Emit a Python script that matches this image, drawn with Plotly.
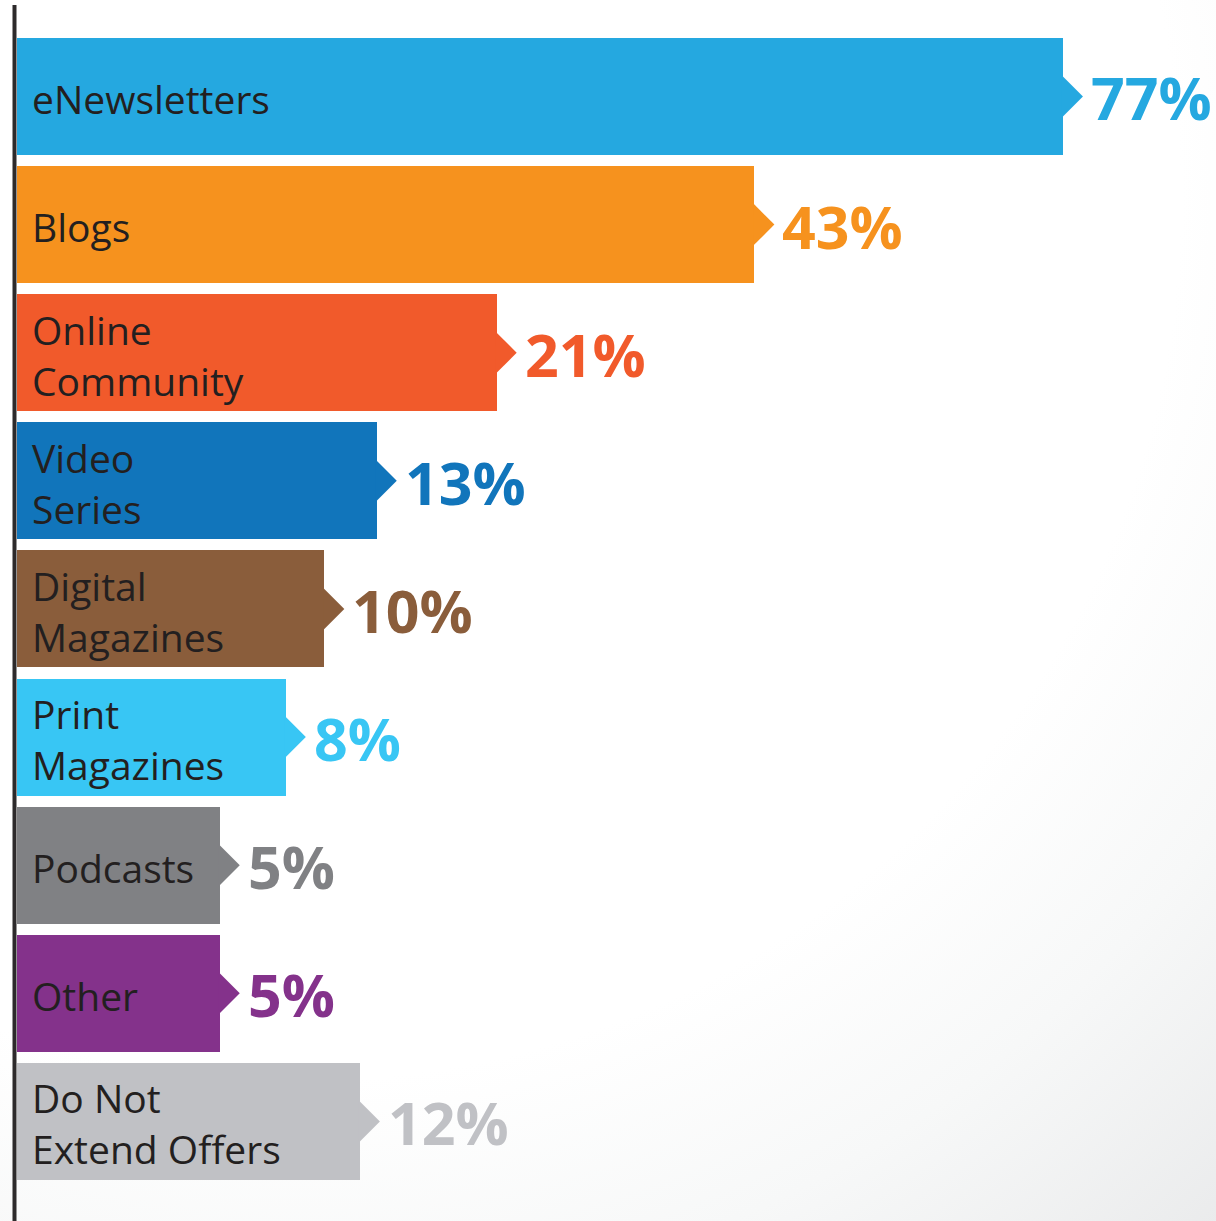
import base64
import plotly.graph_objects as go

# ---------------- data ----------------
categories = ["eNewsletters", "Blogs", "Online Community", "Video Series",
              "Digital Magazines", "Print Magazines", "Podcasts", "Other",
              "Do Not Extend Offers"]
bar_labels = ["eNewsletters", "Blogs", "Online<br>Community", "Video<br>Series",
              "Digital<br>Magazines", "Print<br>Magazines", "Podcasts", "Other",
              "Do Not<br>Extend Offers"]
values = [77, 43, 21, 13, 10, 8, 5, 5, 12]
value_labels = [f"{v}%" for v in values]
colors = ["#25A8E0", "#F6921E", "#F15A2B", "#1175BB", "#8A5D3B",
          "#38C6F4", "#808184", "#84328B", "#C0C1C5"]

# the infographic draws bar lengths on a compressed (power) scale
SCALE_EXP = 0.6
lengths = [v ** SCALE_EXP for v in values]

W, H = 1216, 1221
FONT = "Open Sans"
TEXT_COLOR = "#231F20"

fig = go.Figure()
fig.add_trace(go.Bar(
    y=categories, x=lengths, orientation="h",
    marker=dict(color=colors, line=dict(width=0)),
    width=0.913, hoverinfo="skip", showlegend=False,
))

shapes = []
annotations = []
for i, (cat, lab, L, vl, col) in enumerate(zip(categories, bar_labels, lengths, value_labels, colors)):
    # pointer arrow at the end of each bar
    shapes.append(dict(
        type="path", xref="x", yref="y",
        xsizemode="pixel", ysizemode="pixel",
        xanchor=L, yanchor=i,
        path="M -1,21 L 20,0 L -1,-21 Z",
        fillcolor=col, line=dict(width=0), layer="above",
    ))
    # value label
    annotations.append(dict(
        x=L, y=i, xref="x", yref="y", text=vl, showarrow=False,
        xanchor="left", yanchor="middle", xshift=26, yshift=-1,
        font=dict(family=FONT, size=59, color=col, weight="bold"),
    ))
    # category label inside the bar
    annotations.append(dict(
        x=0, y=i, xref="x", yref="y", text=lab, showarrow=False,
        xanchor="left", yanchor="middle", align="left", xshift=13, yshift=-2,
        font=dict(family=FONT, size=39, color=TEXT_COLOR),
    ))

# left axis line
shapes.append(dict(type="line", xref="paper", yref="paper",
                   x0=14.5 / W, x1=14.5 / W, y0=0, y1=(H - 5) / H,
                   line=dict(color="#2D2A2B", width=4), layer="above"))

# subtle radial background
svg = f'''<svg xmlns="http://www.w3.org/2000/svg" width="{W}" height="{H}" viewBox="0 0 {W} {H}">
<defs><radialGradient id="g" gradientUnits="userSpaceOnUse" cx="300" cy="200" r="1420">
<stop offset="0" stop-color="#ffffff"/>
<stop offset="0.62" stop-color="#ffffff"/>
<stop offset="0.78" stop-color="#f7f8f8"/>
<stop offset="1" stop-color="#e8e9ea"/>
</radialGradient></defs>
<rect width="{W}" height="{H}" fill="url(#g)"/></svg>'''
src = "data:image/svg+xml;base64," + base64.b64encode(svg.encode()).decode()

px_per_unit = 77.2
fig.update_layout(
    width=W, height=H,
    margin=dict(l=0, r=0, t=0, b=0),
    paper_bgcolor="white", plot_bgcolor="rgba(0,0,0,0)",
    xaxis=dict(range=[-17 / px_per_unit, (W - 17) / px_per_unit],
               visible=False, fixedrange=True),
    yaxis=dict(type="category", categoryorder="array", categoryarray=categories,
               range=[8.777, -0.753], visible=False, fixedrange=True),
    shapes=shapes, annotations=annotations,
    images=[dict(source=src, xref="paper", yref="paper", x=0, y=1,
                 sizex=1, sizey=1, sizing="stretch", xanchor="left",
                 yanchor="top", layer="below")],
    bargap=0,
)

fig.write_html("out.html", config={"displayModeBar": False},
               post_script="document.body.style.margin='0';")
